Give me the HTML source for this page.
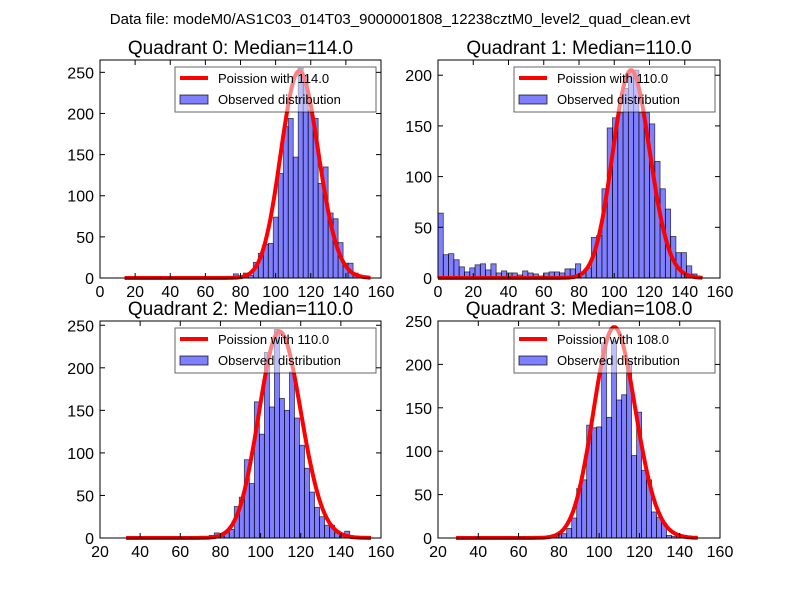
<!DOCTYPE html>
<html><head><meta charset="utf-8"><style>
body{margin:0;background:#fff;}
svg{display:block;font-family:"Liberation Sans","DejaVu Sans",sans-serif;}
</style></head><body>
<svg id="fig" width="800" height="600">
<rect width="800" height="600" fill="#fff"/>
<text x="400" y="24" text-anchor="middle" font-size="15">Data file: modeM0/AS1C03_014T03_9000001808_12238cztM0_level2_quad_clean.evt</text>
</svg>
<script>
// Quadrant 0 data
const q0Start = 13.46, q0Width = 2.84;
const q0Counts = [0,0,0,0,0,0,0,0,0,0,0,0,0,0,0,0,0,0,0,0,2,1,5,2,6,3,19,30,41,42,74,127,184,194,147,255,245,204,194,115,135,79,72,43,18,18,6,3,0];
const q0Mu = 114, q0Scale = 6740, q0CurveMin = 14, q0CurveMax = 154;
// Quadrant 1 data
const q1Start = 0, q1Width = 3;
const q1Counts = [64,23,24,18,11,6,10,13,14,8,14,5,7,5,5,3,7,5,4,2,5,6,6,5,9,9,14,5,10,40,42,88,148,158,163,187,205,205,163,163,152,115,88,68,41,25,25,12,4,1];
const q1Mu = 110, q1Scale = 5390, q1CurveMin = 0, q1CurveMax = 150;
// Quadrant 2 data
const q2Start = 34.4, q2Width = 2.5;
const q2Counts = [0,0,0,0,0,0,0,0,0,0,0,0,0,0,2,0,3,6,2,6,10,37,48,92,64,160,122,218,154,245,164,150,195,141,109,82,54,36,25,15,15,6,2,8,0,0,0,0,0];
const q2Mu = 110, q2Scale = 6380, q2CurveMin = 33, q2CurveMax = 155;
// Quadrant 3 data
const q3Start = 31.8, q3Width = 2.48;
const q3Counts = [0,0,0,0,0,0,0,0,0,0,0,0,0,0,1,1,1,2,3,5,5,11,23,57,67,130,127,128,225,139,227,159,165,204,95,145,78,67,30,24,17,3,2,2,2,0,0,0,0];
const q3Mu = 108, q3Scale = 6330, q3CurveMin = 29, q3CurveMax = 149;
// axes ticks
const xTicksTop = [0,20,40,60,80,100,120,140,160];
const xTicksBottom = [20,40,60,80,100,120,140,160];
const yTicks0 = [0,50,100,150,200,250];
const yTicks1 = [0,50,100,150,200];

const NS = "http://www.w3.org/2000/svg";
const svg = document.getElementById('fig');
function mk(tag, attrs, parent){const e=document.createElementNS(NS,tag);for(const k in attrs)e.setAttribute(k,attrs[k]);(parent||svg).appendChild(e);return e;}
function logPois(k,mu){let lf=0;for(let i=2;i<=k;i++)lf+=Math.log(i);return k*Math.log(mu)-mu-lf;}

function panel(idx,L,R,T,B,xmin,xmax,ymax,xt,yt,start,width,counts,mu,scale,cmin,cmax){
  const g=mk('g',{});
  
  
  const sx=v=>L+(v-xmin)/(xmax-xmin)*(R-L);
  const sy=v=>B-v/ymax*(B-T);
  const t=mk('text',{x:(L+R)/2,y:T-6,'text-anchor':'middle','font-size':19},g);
  t.textContent='Quadrant '+idx+': Median='+mu.toFixed(1);
  
  
  counts.forEach((c,i)=>{
    if(c<=0)return;
    const x0=sx(start+i*width), x1=sx(start+(i+1)*width);
    const r=mk('rect',{x:x0,y:sy(c),width:x1-x0,height:sy(0)-sy(c),fill:'rgba(0,0,255,0.5)',stroke:'#000','stroke-opacity':0.7,'stroke-width':0.8},g);
    
    
  });
  let d='';
  for(let k=cmin;k<=cmax;k++){const v=scale*Math.exp(logPois(k,mu));d+=(k===cmin?'M':'L')+sx(k).toFixed(1)+','+sy(v).toFixed(1);}
  const p=mk('path',{d:d,fill:'none',stroke:'#ff0000','stroke-width':4,'stroke-linejoin':'round'},g);
  
  
  const f=mk('rect',{x:L,y:T,width:R-L,height:B-T,fill:'none',stroke:'#000','stroke-width':1},g);
  
  
  xt.forEach(v=>{const x=sx(v);
    mk('line',{x1:x,x2:x,y1:B,y2:B-5,stroke:'#000'},g);mk('line',{x1:x,x2:x,y1:T,y2:T+5,stroke:'#000'},g);
    const tl=mk('text',{x:x,y:B+19,'text-anchor':'middle','font-size':16},g);tl.textContent=v;
    
    
  });
  yt.forEach(v=>{const y=sy(v);
    mk('line',{x1:L,x2:L+5,y1:y,y2:y,stroke:'#000'},g);mk('line',{x1:R,x2:R-5,y1:y,y2:y,stroke:'#000'},g);
    const tl=mk('text',{x:L-6,y:y+6,'text-anchor':'end','font-size':16},g);tl.textContent=v;
    
    
  });
  const lg=mk('g',{},g);
  
  
  const lx=R-206, ly=T+7;
  mk('rect',{x:lx,y:ly,width:201,height:45,fill:'rgba(255,255,255,0.5)',stroke:'#000','stroke-opacity':0.6},lg);
  mk('line',{x1:lx+5,x2:lx+33,y1:ly+11,y2:ly+11,stroke:'#f00','stroke-width':4},lg);
  const t1=mk('text',{x:lx+43,y:ly+16,'font-size':13},lg);t1.textContent='Poission with '+mu.toFixed(1);
  
  
  mk('rect',{x:lx+5,y:ly+28,width:28,height:9,fill:'rgba(0,0,255,0.5)',stroke:'#000','stroke-opacity':0.7},lg);
  const t2=mk('text',{x:lx+43,y:ly+37,'font-size':13},lg);t2.textContent='Observed distribution';
  
  
}
panel(0,100,381,60,278,0,160,265,xTicksTop,yTicks0,q0Start,q0Width,q0Counts,q0Mu,q0Scale,q0CurveMin,q0CurveMax);
panel(1,438,720,60,278,0,160,215,xTicksTop,yTicks1,q1Start,q1Width,q1Counts,q1Mu,q1Scale,q1CurveMin,q1CurveMax);
panel(2,100,381,321,538,20,160,255,xTicksBottom,yTicks0,q2Start,q2Width,q2Counts,q2Mu,q2Scale,q2CurveMin,q2CurveMax);
panel(3,438,720,321,538,20,160,250,xTicksBottom,yTicks0,q3Start,q3Width,q3Counts,q3Mu,q3Scale,q3CurveMin,q3CurveMax);
</script>
</body></html>
